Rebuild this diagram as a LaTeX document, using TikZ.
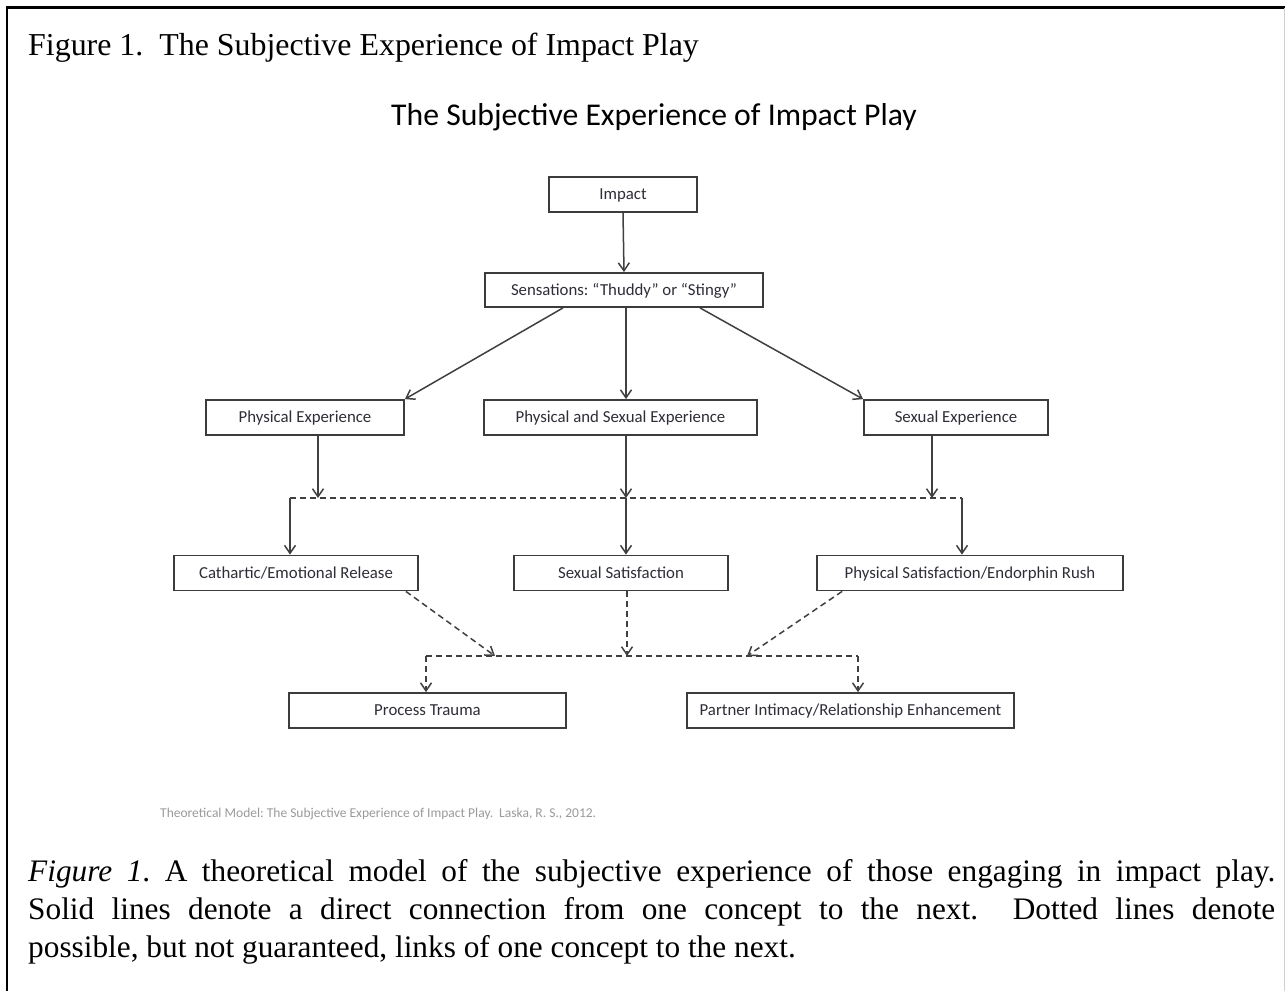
\documentclass[tikz,border=0pt]{standalone}
\usepackage{fontspec}
\setmainfont{Liberation Serif}
\newfontfamily\carl{Carlito}
\usetikzlibrary{arrows.meta,calc}
\definecolor{boxline}{HTML}{3C3C3C}
\definecolor{arrowline}{HTML}{404040}
\definecolor{boxtext}{HTML}{2E2E38}
\definecolor{foot}{HTML}{9A9A9A}
\definecolor{rightedge}{HTML}{D0D0D0}
\frenchspacing
\begin{document}
\begin{tikzpicture}[x=1pt,y=-1pt,
  box/.style={draw=boxline,line width=1.8pt,minimum height=35pt,inner sep=0pt,
    text height=13pt,text depth=2.5pt,
    font=\carl\fontsize{16.8}{19}\selectfont,text=boxtext},
  solidarrow/.style={draw=arrowline,line width=1.5pt,-{Straight Barb[length=8pt,width=11pt]}},
  dasharrow/.style={solidarrow,dash pattern=on 6pt off 4pt},
  dashline/.style={draw=arrowline,line width=1.5pt,dash pattern=on 6pt off 4pt},
  plain/.style={inner sep=0pt,anchor=base west},
  captext/.style={plain,font=\fontsize{31.3}{38}\selectfont}
]
\useasboundingbox (0,0) rectangle (1285,991);
\fill[white] (0,0) rectangle (1285,991);
% frame
\draw[line width=2.2pt] (7,991) -- (7,7.5) -- (1285,7.5);
\draw[rightedge,line width=1pt] (1284,7.5) -- (1284,991);

% header
\node[plain,font=\fontsize{31.9}{36}\selectfont] (hdr) at (28,55)
  {Figure 1.\ \ The Subjective Experience of Impact Play};

% title
\node[inner sep=0pt,anchor=base,font=\carl\fontsize{31.7}{36}\selectfont] (title) at (654,125)
  {The Subjective Experience of Impact Play};

% boxes
\node[box,minimum width=148pt] (impact) at (623,194.5) {Impact};
\node[box,minimum width=278pt,minimum height=34pt] (sens) at (624,290) {Sensations: “Thuddy” or “Stingy”};
\node[box,minimum width=198pt] (physexp) at (305,417.5) {Physical Experience};
\node[box,minimum width=273pt] (physsex) at (620.5,417.5) {Physical and Sexual Experience};
\node[box,minimum width=184pt] (sexexp) at (956,417.5) {Sexual Experience};
\node[box,minimum width=244pt] (cath) at (296,573) {Cathartic/Emotional Release};
\node[box,minimum width=214pt] (sexsat) at (621,573) {Sexual Satisfaction};
\node[box,minimum width=306pt] (physsat) at (970,573) {Physical Satisfaction/Endorphin Rush};
\node[box,minimum width=277pt] (trauma) at (427.5,710.5) {Process Trauma};
\node[box,minimum width=327pt] (partner) at (850.5,710.5) {Partner Intimacy/Relationship Enhancement};

% upper connectors
\draw[solidarrow] (impact.south) -- (sens.north);
\draw[solidarrow] ([xshift=-61pt]sens.south) -- (physexp.north east);
\draw[solidarrow] ([xshift=76pt]sens.south) -- (sexexp.north west);

\coordinate (jl) at (290,498);
\coordinate (jpe) at (318,498);
\coordinate (jm) at (626,498);
\coordinate (jse) at (932,498);
\coordinate (jr) at (962,498);
\draw[dashline] (jl) -- (jr);
\draw[solidarrow] (sens.south -| jm) -- (physsex.north -| jm);
\draw[solidarrow] (physexp.south -| jpe) -- (jpe);
\draw[solidarrow] (physsex.south -| jm) -- (jm);
\draw[solidarrow] (jm) -- (sexsat.north -| jm);
\draw[solidarrow] (sexexp.south -| jse) -- (jse);
\draw[solidarrow] (jl) -- (cath.north -| jl);
\draw[solidarrow] (jr) -- (physsat.north -| jr);

% lower connectors
\coordinate (kl) at (426,656);
\coordinate (kc) at (495,656);
\coordinate (km) at (627,656);
\coordinate (kp) at (747,656);
\coordinate (kr) at (858,656);
\draw[dashline] (kl) -- (kr);
\draw[dasharrow] ([xshift=-13pt]cath.south east) -- (kc);
\draw[dasharrow] (sexsat.south -| km) -- (km);
\draw[dasharrow] ([xshift=26pt]physsat.south west) -- (kp);
\draw[dasharrow] (kl) -- (trauma.north -| kl);
\draw[dasharrow] (kr) -- (partner.north -| kr);

% footer
\node[plain,text=foot,font=\carl\fontsize{13.5}{16}\selectfont] (foot) at (160,817)
  {Theoretical Model: The Subjective Experience of Impact Play.\ \ Laska, R. S., 2012.};

% caption
\node[captext] (cap1) at (28,881)
  {\makebox[1247pt][s]{\textit{Figure 1}. A theoretical model of the subjective experience of those engaging in impact play.}};
\node[captext] (cap2) at (28,919)
  {\makebox[1247pt][s]{Solid lines denote a direct connection from one concept to the next.\ \ Dotted lines denote}};
\node[captext] (cap3) at (28,957)
  {possible, but not guaranteed, links of one concept to the next.};
\end{tikzpicture}
\end{document}
